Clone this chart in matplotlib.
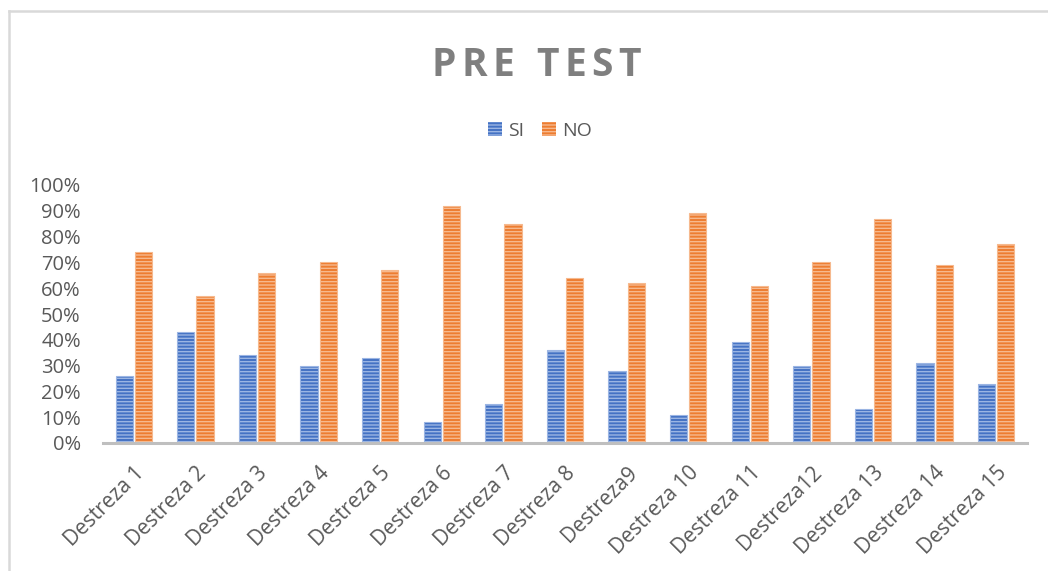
import matplotlib
matplotlib.use('Agg')
import matplotlib.pyplot as plt
import matplotlib.patches as mpatches
from matplotlib.lines import Line2D
import numpy as np

categorias = ["Destreza 1", "Destreza 2", "Destreza 3", "Destreza 4", "Destreza 5",
              "Destreza 6", "Destreza 7", "Destreza 8", "Destreza9", "Destreza 10",
              "Destreza 11", "Destreza12", "Destreza 13", "Destreza 14", "Destreza 15"]
si = [26, 43, 34, 30, 33, 8, 15, 36, 28, 11, 39, 30, 13, 31, 23]
no = [74, 57, 66, 70, 67, 92, 85, 64, 62, 89, 61, 70, 87, 69, 77]
yticks = [0, 10, 20, 30, 40, 50, 60, 70, 80, 90, 100]

plt.rcParams['font.family'] = ['Open Sans', 'DejaVu Sans']
plt.rcParams['hatch.linewidth'] = 1.0

W, H = 1048, 571
fig = plt.figure(figsize=(W / 100, H / 100), dpi=100)
ax = fig.add_axes([103 / W, 1 - 443 / H, (1027 - 103) / W, (443 - 185) / H])

x = np.arange(len(categorias))
bw = 0.28
off = 0.155
azul, azul_claro = "#4472C4", "#9bb5e3"
naranja, naranja_claro = "#ED7D31", "#f6b98e"


def barras(pos, vals, base, claro):
    v = np.array(vals) / 100.0
    ax.bar(pos, v, bw, color=base, edgecolor=claro, linewidth=0.8, zorder=2)
    ax.bar(pos, v, bw, facecolor='none', edgecolor=claro, linewidth=0,
           hatch='-----', zorder=3)


barras(x - off, si, azul, azul_claro)
barras(x + off, no, naranja, naranja_claro)

ax.set_xlim(-0.5, len(categorias) - 0.5)
ax.set_ylim(0, 1)
ax.set_yticks(np.array(yticks) / 100.0)
ax.set_yticklabels(["%d%%" % t for t in yticks])
ax.set_xticks(x)
ax.set_xticklabels(categorias, rotation=45, ha='right', rotation_mode='anchor')
ax.tick_params(axis='y', length=0, pad=16, labelsize=14.5, labelcolor="#595959")
ax.tick_params(axis='x', length=0, pad=14, labelsize=15, labelcolor="#595959")
for s in ['top', 'right', 'left']:
    ax.spines[s].set_visible(False)
ax.spines['bottom'].set_color("#bfbfbf")
ax.spines['bottom'].set_linewidth(2.2)
ax.spines['bottom'].set_zorder(4)

# titulo con espaciado entre letras
titulo = "PRE TEST"
fig.canvas.draw()
r = fig.canvas.get_renderer()
extra = 5.5
parts = []
for ch in titulo:
    t = fig.text(0, 0, ch, fontsize=28, fontweight='bold', color="#7f7f7f")
    parts.append((t, t.get_window_extent(r).width if ch != " " else 11))
total = sum(w for _, w in parts) + extra * (len(parts) - 1)
cx = 536
xx = cx - total / 2
for t, w in parts:
    t.set_position((xx / W, 1 - 76 / H))
    xx += w + extra

h_si = mpatches.Patch(facecolor=azul, edgecolor=azul_claro, hatch='-----', linewidth=0)
h_no = mpatches.Patch(facecolor=naranja, edgecolor=naranja_claro, hatch='-----', linewidth=0)
fig.legend([h_si, h_no], ["SI", "NO"], loc='center', bbox_to_anchor=(540 / W, 1 - 131 / H),
           ncol=2, frameon=False, fontsize=14, labelcolor="#595959",
           handlelength=0.75, handleheight=0.75, handletextpad=0.3, columnspacing=0.9)

# borde del grafico
fig.add_artist(Line2D([9 / W, 9 / W], [0, 1 - 11 / H], color="#d9d9d9", lw=1.8))
fig.add_artist(Line2D([9 / W, 1], [1 - 11 / H, 1 - 11 / H], color="#d9d9d9", lw=1.8))

fig.savefig("out.png", dpi=100)
